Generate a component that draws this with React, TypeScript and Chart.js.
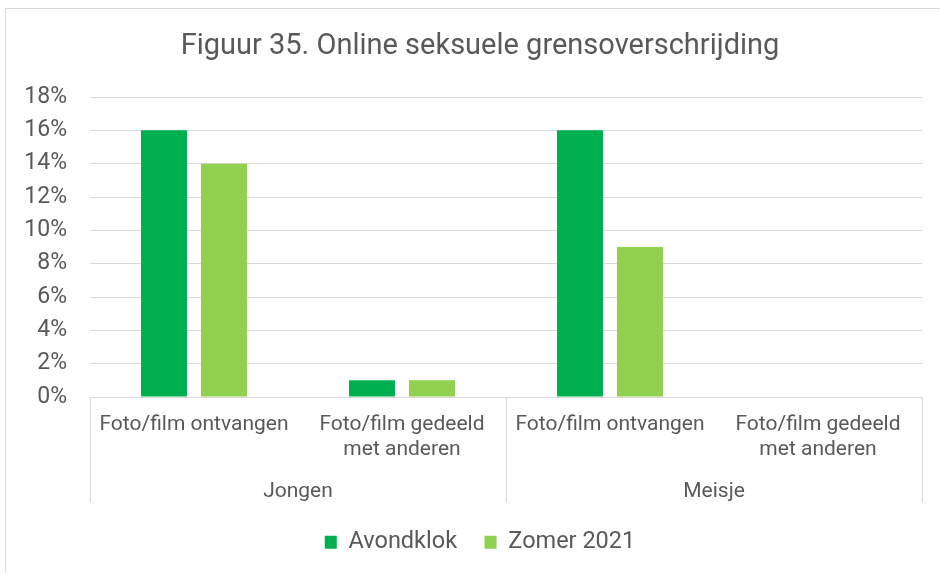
import React, { useEffect, useRef } from "react";
import { Chart, registerables } from "chart.js";

Chart.register(...registerables);

// Category labels (sub-category per gender group)
const subCategories: string[][] = [
  ["Foto/film ontvangen"],
  ["Foto/film gedeeld", "met anderen"],
  ["Foto/film ontvangen"],
  ["Foto/film gedeeld", "met anderen"],
];
const groups = ["Jongen", "Meisje"];
const groupSize = 2;

// Percentages per series
const avondklok = [16, 1, 16, 0];
const zomer2021 = [14, 1, 9, 0];
const seriesNames = ["Avondklok", "Zomer 2021"];

// Y axis range (%)
const yMin = 0;
const yMax = 18;
const yStep = 2;

const TEXT = "#595959";
const GRID = "#D9D9D9";
const FONT = "Roboto, 'Open Sans', Arial, sans-serif";

// Draws the group separators and group names below the category ticks
const groupAxisPlugin = {
  id: "groupAxis",
  afterDraw(chart: any) {
    const { ctx, chartArea, scales } = chart;
    const x = scales.x;
    const depth = 106;
    const top = chartArea.bottom;
    const bounds: number[] = [chartArea.left];
    for (let g = 1; g < groups.length; g++) {
      const a = x.getPixelForValue(g * groupSize - 1);
      const b = x.getPixelForValue(g * groupSize);
      bounds.push((a + b) / 2);
    }
    bounds.push(chartArea.right);

    ctx.save();
    ctx.strokeStyle = GRID;
    ctx.lineWidth = 1;
    bounds.forEach((bx) => {
      const px = Math.round(bx) + 0.5;
      ctx.beginPath();
      ctx.moveTo(px, top);
      ctx.lineTo(px, top + depth);
      ctx.stroke();
    });
    ctx.fillStyle = TEXT;
    ctx.font = `21px ${FONT}`;
    ctx.textAlign = "center";
    ctx.textBaseline = "middle";
    groups.forEach((name, i) => {
      const cx = (bounds[i] + bounds[i + 1]) / 2;
      ctx.fillText(name, cx, top + 95);
    });
    ctx.restore();
  },
};

export default function App() {
  const canvasRef = useRef<HTMLCanvasElement | null>(null);

  useEffect(() => {
    if (!canvasRef.current) return;
    const titleSize = 29;
    const titleTop = 29.5;
    const chart = new Chart(canvasRef.current, {
      type: "bar",
      data: {
        labels: subCategories,
        datasets: [
          {
            label: seriesNames[0],
            data: avondklok,
            backgroundColor: "#00B050",
            borderWidth: 0,
            categoryPercentage: 0.577,
            barPercentage: 0.767,
          },
          {
            label: seriesNames[1],
            data: zomer2021,
            backgroundColor: "#92D050",
            borderWidth: 0,
            categoryPercentage: 0.577,
            barPercentage: 0.767,
          },
        ],
      },
      options: {
        responsive: false,
        animation: false,
        layout: { padding: { left: 0, right: 0, top: 0, bottom: 9 } },
        plugins: {
          tooltip: { enabled: false },
          title: {
            display: true,
            text: "Figuur 35. Online seksuele grensoverschrijding",
            color: TEXT,
            font: { family: FONT, size: titleSize, weight: "normal", lineHeight: 1.2 },
            padding: { top: titleTop, bottom: 97 - titleTop - titleSize * 1.2 },
          },
          legend: {
            display: true,
            position: "bottom",
            labels: {
              color: TEXT,
              font: { family: FONT, size: 23.5 },
              boxWidth: 12,
              boxHeight: 13,
              padding: 27.5,
            },
          },
        },
        scales: {
          x: {
            type: "category",
            grid: { display: false, drawTicks: false },
            border: { display: false },
            ticks: {
              color: TEXT,
              font: { family: FONT, size: 21, lineHeight: 1.2 },
              padding: 15,
              maxRotation: 0,
              autoSkip: false,
            },
            afterFit(scale: any) {
              scale.height = 106;
            },
          },
          y: {
            type: "linear",
            min: yMin,
            max: yMax,
            grid: { color: GRID, lineWidth: 1, drawTicks: false },
            border: { display: false },
            ticks: {
              stepSize: yStep,
              color: TEXT,
              font: { family: FONT, size: 23 },
              padding: 23,
              callback: (v: any) => `${v}%`,
            },
            afterFit(scale: any) {
              scale.width = 90;
            },
          },
          yRight: {
            type: "linear",
            position: "right",
            display: true,
            grid: { display: false, drawTicks: false },
            border: { display: false },
            ticks: { display: false },
            afterFit(scale: any) {
              scale.width = 38;
            },
          },
        },
      },
      plugins: [groupAxisPlugin],
    });
    return () => chart.destroy();
  }, []);

  return (
    <div
      style={{
        position: "fixed",
        left: 0,
        top: 0,
        width: 940,
        height: 573,
        overflow: "hidden",
        background: "#fff",
      }}
    >
      <div
        style={{
          position: "absolute",
          left: 5,
          top: 8,
          width: 1000,
          height: 700,
          border: `1px solid ${GRID}`,
          boxSizing: "border-box",
        }}
      />
      <canvas
        ref={canvasRef}
        width={960}
        height={573}
        style={{ position: "absolute", left: 0, top: 0, width: 960, height: 573 }}
      />
    </div>
  );
}
